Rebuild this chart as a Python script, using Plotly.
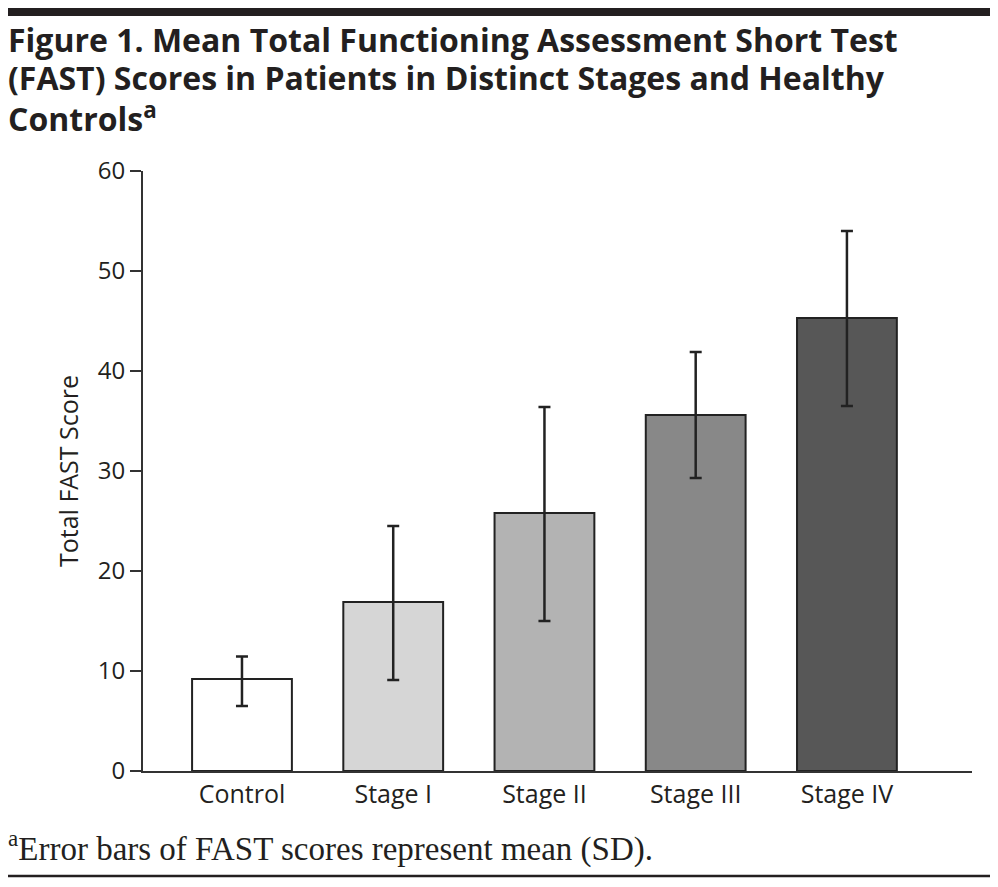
import plotly.graph_objects as go

categories = ["Control", "Stage I", "Stage II", "Stage III", "Stage IV"]
mean_scores = [9.2, 16.9, 25.8, 35.6, 45.3]
upper_values = [11.45, 24.5, 36.4, 41.9, 54.0]
lower_values = [6.5, 9.1, 15.0, 29.3, 36.5]
bar_colors = ["#ffffff", "#d6d6d6", "#b3b3b3", "#888888", "#575757"]
y_ticks = [0, 10, 20, 30, 40, 50, 60]
title_lines = [
    "Figure 1. Mean Total Functioning Assessment Short Test",
    "(FAST) Scores in Patients in Distinct Stages and Healthy",
    "Controls<sup>a</sup>",
]
footnote = "<sup>a</sup>Error bars of FAST scores represent mean (SD)."

err_plus = [u - m for u, m in zip(upper_values, mean_scores)]
err_minus = [m - l for m, l in zip(mean_scores, lower_values)]

OFF = 8  # page body margin
W, H = 998 - 2 * OFF, 887 - 2 * OFF
L, T = 143 - OFF, 171 - OFF
R = W - (972 - OFF)
B = H - (771 - OFF)
pw, ph = W - L - R, H - T - B


def px2x(page_x):
    return (page_x - OFF - L) / pw


def py2y(page_y):
    return (T + ph - (page_y - OFF)) / ph


fig = go.Figure()
fig.add_trace(go.Bar(
    x=categories,
    y=mean_scores,
    width=0.66,
    marker=dict(color=bar_colors, line=dict(color="#222222", width=2)),
    error_y=dict(type="data", symmetric=False, array=err_plus, arrayminus=err_minus,
                 color="#222222", thickness=2.5, width=6),
    showlegend=False,
))

sans = "Open Sans"
ink = "#231f20"
annotations = []
for i, line in enumerate(title_lines):
    annotations.append(dict(
        xref="paper", yref="paper", x=px2x(6), y=py2y(39 + 39 * i),
        xanchor="left", yanchor="middle", align="left", showarrow=False,
        text="<b>" + line + "</b>",
        font=dict(family=sans, size=32, color=ink)))
annotations.append(dict(
    xref="paper", yref="paper", x=px2x(6), y=py2y(846),
    xanchor="left", yanchor="middle", align="left", showarrow=False,
    text=footnote,
    font=dict(family="Liberation Serif", size=33, color=ink)))

fig.update_layout(
    width=W, height=H,
    margin=dict(l=L, r=R, t=T, b=B, pad=0),
    paper_bgcolor="white", plot_bgcolor="white",
    font=dict(family=sans, color=ink, size=24),
    xaxis=dict(
        type="category",
        range=[-0.6545, 4.827],
        showline=True, linecolor="#333333", linewidth=2,
        ticks="", showgrid=False, zeroline=False,
        tickfont=dict(family=sans, size=25, color=ink),
    ),
    yaxis=dict(
        range=[0, 60],
        tickvals=y_ticks,
        showline=True, linecolor="#333333", linewidth=2,
        ticks="outside", ticklen=11, tickwidth=2, tickcolor="#333333",
        showgrid=False, zeroline=False,
        tickfont=dict(family=sans, size=24, color=ink),
        title=dict(text="Total FAST Score", font=dict(family=sans, size=25, color=ink),
                   standoff=12),
    ),
    shapes=[
        dict(type="rect", xref="paper", yref="paper",
             x0=px2x(8), x1=px2x(990), y0=py2y(16), y1=py2y(7),
             fillcolor=ink, line=dict(width=0)),
        dict(type="line", xref="paper", yref="paper",
             x0=px2x(8), x1=px2x(991), y0=py2y(876), y1=py2y(876),
             line=dict(color=ink, width=2.5)),
    ],
    annotations=annotations,
)

fig.write_html("out.html")
